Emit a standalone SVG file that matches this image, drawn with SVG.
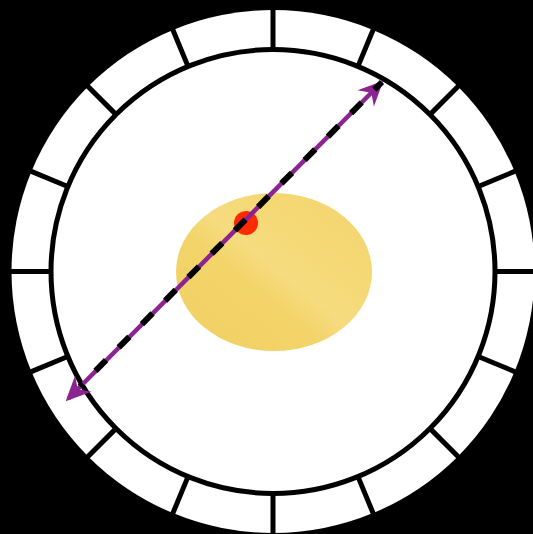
<svg xmlns="http://www.w3.org/2000/svg" width="533" height="534" viewBox="0 0 533 534">
  <style>
    .ring { fill: none; stroke: #000; stroke-width: 5; }
    .tick { stroke: #000; stroke-width: 5; }
    .arrow { fill: none; stroke: #8b2391; stroke-width: 4.5; }
    .dash { fill: none; stroke: #000; stroke-width: 6; stroke-dasharray: 15 18; stroke-dashoffset: 11; }
  </style>
  <defs>
    <linearGradient id="yolk" x1="0" y1="1" x2="1" y2="0">
      <stop offset="0" stop-color="#f0d062"/>
      <stop offset="0.4" stop-color="#f3d46a"/>
      <stop offset="0.52" stop-color="#f6dc80"/>
      <stop offset="0.65" stop-color="#f5d976"/>
      <stop offset="1" stop-color="#f3d56e"/>
    </linearGradient>
    <line id="tk" class="tick" x1="273" y1="50" x2="273" y2="6"/>
    <marker id="head" markerUnits="userSpaceOnUse" viewBox="-27 -14 30 28" markerWidth="30" markerHeight="28" refX="-4" refY="0" orient="auto-start-reverse">
      <path d="M0,0 L-25,-11.5 L-17,0 L-25,11.5 Z" fill="#8b2391"/>
    </marker>
  </defs>
  <rect width="533" height="534" fill="#000"/>
  <g id="dial">
    <circle cx="273" cy="271.5" r="261.5" fill="#fff"/>
    <circle class="ring" cx="273" cy="271.5" r="222"/>
    <use href="#tk"/>
    <use href="#tk" transform="rotate(22.5 273 271.5)"/>
    <use href="#tk" transform="rotate(45 273 271.5)"/>
    <use href="#tk" transform="rotate(67.5 273 271.5)"/>
    <use href="#tk" transform="rotate(90 273 271.5)"/>
    <use href="#tk" transform="rotate(112.5 273 271.5)"/>
    <use href="#tk" transform="rotate(135 273 271.5)"/>
    <use href="#tk" transform="rotate(157.5 273 271.5)"/>
    <use href="#tk" transform="rotate(180 273 271.5)"/>
    <use href="#tk" transform="rotate(202.5 273 271.5)"/>
    <use href="#tk" transform="rotate(225 273 271.5)"/>
    <use href="#tk" transform="rotate(247.5 273 271.5)"/>
    <use href="#tk" transform="rotate(270 273 271.5)"/>
    <use href="#tk" transform="rotate(292.5 273 271.5)"/>
    <use href="#tk" transform="rotate(315 273 271.5)"/>
    <use href="#tk" transform="rotate(337.5 273 271.5)"/>
  </g>
  <g id="ellipse">
    <ellipse cx="274" cy="272" rx="98" ry="79" fill="url(#yolk)"/>
  </g>
  <g id="dot">
    <circle cx="246" cy="223" r="12" fill="#ff2a00"/>
  </g>
  <g id="connectors">
    <path class="arrow" d="M68.5,398.5 L380.5,83.5" marker-start="url(#head)" marker-end="url(#head)"/>
    <path class="dash" d="M80,386.5 L382,82"/>
  </g>
</svg>
